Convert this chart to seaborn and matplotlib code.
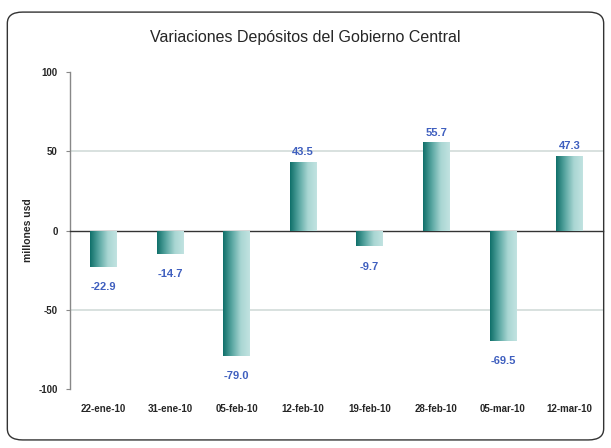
import numpy as np
import pandas as pd
import matplotlib
matplotlib.use("Agg")
import matplotlib.pyplot as plt
import seaborn as sns
from matplotlib.colors import LinearSegmentedColormap
from matplotlib.patches import FancyBboxPatch

fechas = ['22-ene-10', '31-ene-10', '05-feb-10', '12-feb-10',
          '19-feb-10', '28-feb-10', '05-mar-10', '12-mar-10']
variacion = [-22.9, -14.7, -79.0, 43.5, -9.7, 55.7, -69.5, 47.3]
yticks = [-100, -50, 0, 50, 100]

df = pd.DataFrame({'fecha': fechas, 'valor': variacion})

sns.set_style("white")
plt.rcParams['font.family'] = ['Liberation Sans Narrow', 'Liberation Sans', 'DejaVu Sans']

fig = plt.figure(figsize=(6.11, 4.48), dpi=100)
# rounded border of the chart area
fig.patches.append(FancyBboxPatch((0.012, 0.018), 0.976, 0.955,
                                  boxstyle="round,pad=0,rounding_size=0.025",
                                  transform=fig.transFigure, fill=False,
                                  edgecolor='#333333', linewidth=1.0))
ax = fig.add_axes([0.1146, 0.1317, 0.872, 0.7073])

sns.barplot(data=df, x='fecha', y='valor', color='#2a8a84', width=0.4, ax=ax)

# gradient fill of bars
cmap = LinearSegmentedColormap.from_list('teal', ['#0f6f69', '#5aa7a2', '#a9d6d3', '#c2e3e1'])
grad = np.linspace(0, 1, 256).reshape(1, -1)
for p in ax.patches:
    x0, y0 = p.get_x(), p.get_y()
    w, h = p.get_width(), p.get_height()
    im = ax.imshow(grad, cmap=cmap, aspect='auto',
                   extent=[x0, x0 + w, min(y0, y0 + h), max(y0, y0 + h)], zorder=3)
    im.set_clip_path(p)
    p.set_facecolor('none')
    p.set_edgecolor('none')
ax.set_ylim(-100, 100)
ax.set_xlim(-0.5, len(fechas) - 0.5)

# value labels
for i, v in enumerate(variacion):
    off = 6 if v > 0 else -13
    ax.text(i, v + off, f'{v:.1f}', ha='center', va='center',
            color='#3f5fbf', fontsize=8, fontweight='bold')

# gridlines at 50 / -50
for yv in [50, -50]:
    ax.axhline(yv, color='#d6dedc', linewidth=1.3, zorder=0)

# y axis
ax.set_yticks(yticks)
ax.set_yticklabels([str(t) for t in yticks], fontsize=7, fontweight='bold')
ax.tick_params(axis='y', length=3, color='#888888', width=0.8, pad=6)
ax.yaxis.set_ticks_position('left')
ax.spines['left'].set_color('#888888')
ax.spines['left'].set_linewidth(1.0)
for s in ['top', 'right']:
    ax.spines[s].set_visible(False)
ax.set_ylabel('millones usd', fontsize=7.5, fontweight='bold', labelpad=4)

# category axis at zero with ticks between bars
ax.spines['bottom'].set_position(('data', 0))
ax.spines['bottom'].set_color('#333333')
ax.spines['bottom'].set_linewidth(1.0)
ax.set_xticks(np.arange(len(fechas) - 1) + 0.5)
ax.set_xticklabels([])
ax.tick_params(axis='x', length=4, color='#777777', width=0.8, direction='out')
ax.set_xlabel('')

sec = ax.secondary_xaxis(0)
sec.set_xticks(range(len(fechas)))
sec.set_xticklabels(fechas, fontsize=7, fontweight='bold')
sec.tick_params(length=0, pad=11)
sec.spines['bottom'].set_visible(False)

fig.text(0.5, 0.917, 'Variaciones Depósitos del Gobierno Central',
         ha='center', va='center', fontsize=11.5, fontweight='medium')

fig.savefig('out.png', dpi=100)
